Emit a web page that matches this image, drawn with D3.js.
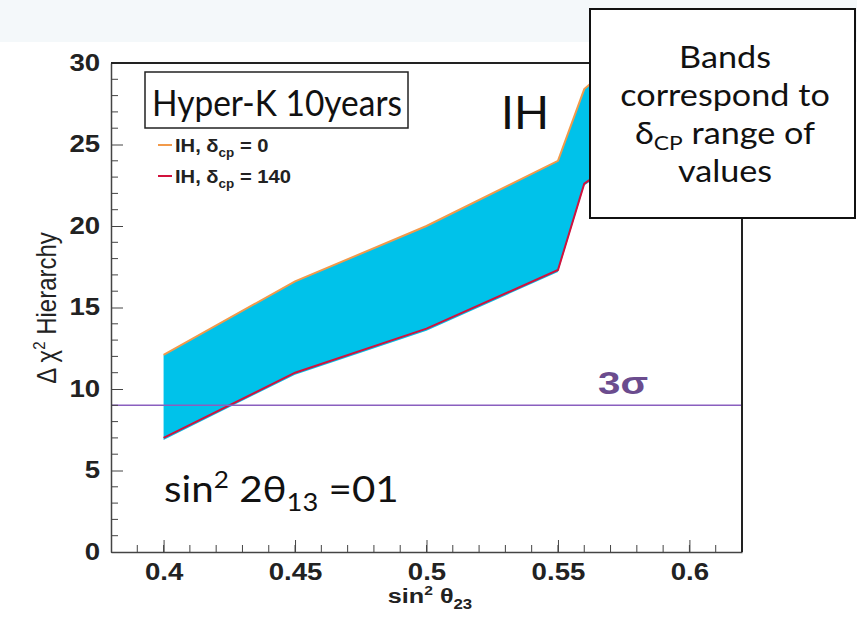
<!DOCTYPE html>
<html>
<head>
<meta charset="utf-8">
<script src="https://cdn.jsdelivr.net/npm/d3@7"></script>
<style>
  body { margin: 0; background: #fff; }
  svg { display: block; }
</style>
</head>
<body>
<div id="chart"></div>
<script>
// Values
const sinTheta23 = [0.40, 0.45, 0.50, 0.55, 0.56, 0.60];
const chi2Dcp0   = [12.1, 16.6, 20.0, 24.0, 28.4, 34.0];
const chi2Dcp140 = [7.0, 11.0, 13.7, 17.3, 22.6, 27.0];
const sigma3 = 9;
const xTicks = [0.4, 0.45, 0.5, 0.55, 0.6];
const yTicks = [0, 5, 10, 15, 20, 25, 30];
const boxLines = ["Bands", "correspond to", null, "values"];

const W = 857, H = 617;
const frame = { left: 111, right: 742, top: 63, bottom: 552 };
const ROOT_FONT = "Liberation Sans, Arial, sans-serif";
const SLIDE_FONT = "Lato, sans-serif";
const SX = 1.2; // the original plot was stretched sideways

const svg = d3.select("#chart").append("svg")
    .attr("width", W)
    .attr("height", H);

// text helper: stretched horizontally about its anchor point
function label(x, y, sx) {
    return svg.append("text")
        .attr("transform", `translate(${x},${y}) scale(${sx},1)`);
}

// light strip along the top
svg.append("rect")
    .attr("x", 0).attr("y", 0)
    .attr("width", W).attr("height", 42)
    .attr("fill", "#f4f8fa");

const x = d3.scaleLinear().domain([0.38, 0.62]).range([frame.left, frame.right]);
const y = d3.scaleLinear().domain([0, 30]).range([frame.bottom, frame.top]);

const pts = sinTheta23.map((s, i) => ({ s: s, hi: chi2Dcp0[i], lo: chi2Dcp140[i] }));

svg.append("clipPath").attr("id", "plot-clip")
    .append("rect")
    .attr("x", frame.left).attr("y", frame.top)
    .attr("width", frame.right - frame.left)
    .attr("height", frame.bottom - frame.top);

const plot = svg.append("g").attr("clip-path", "url(#plot-clip)");

// band of delta_cp values
plot.append("path")
    .datum(pts)
    .attr("fill", "#00c2ea")
    .attr("d", d3.area()
        .x(d => x(d.s))
        .y0(d => y(d.lo) + 2)
        .y1(d => y(d.hi)));

plot.append("path")
    .datum(pts)
    .attr("fill", "none")
    .attr("stroke", "#f29a4a")
    .attr("stroke-width", 2)
    .attr("d", d3.line().x(d => x(d.s)).y(d => y(d.hi)));

plot.append("path")
    .datum(pts)
    .attr("fill", "none")
    .attr("stroke", "#d2123c")
    .attr("stroke-width", 2)
    .attr("d", d3.line().x(d => x(d.s)).y(d => y(d.lo)));

// 3 sigma line
svg.append("line")
    .attr("x1", frame.left).attr("x2", frame.right)
    .attr("y1", y(sigma3)).attr("y2", y(sigma3))
    .attr("stroke", "#8a5fbf")
    .attr("stroke-width", 1.5);

label(598, y(sigma3) - 11, 1.3)
    .attr("font-family", ROOT_FONT)
    .attr("font-weight", "bold")
    .attr("font-size", 31)
    .attr("fill", "#6b4c8e")
    .text("3σ");

// axes (ticks point inwards, ROOT style)
const xAxis = d3.axisBottom(x)
    .tickValues(xTicks)
    .tickSizeInner(-12)
    .tickSizeOuter(0)
    .tickPadding(12)
    .tickFormat(d3.format("~g"));

const gx = svg.append("g")
    .attr("transform", `translate(0,${frame.bottom})`)
    .call(xAxis);

gx.selectAll(".minor")
    .data(d3.range(0.39, 0.615, 0.01).map(v => +v.toFixed(2)))
    .enter().append("line")
    .attr("class", "minor")
    .attr("x1", d => x(d)).attr("x2", d => x(d))
    .attr("y1", 0).attr("y2", -7)
    .attr("stroke", "#444");

const yAxis = d3.axisLeft(y)
    .tickValues(yTicks)
    .tickSizeInner(-12)
    .tickSizeOuter(0)
    .tickPadding(9);

const gy = svg.append("g")
    .attr("transform", `translate(${frame.left},0)`)
    .call(yAxis);

gy.selectAll(".minor")
    .data(d3.range(1, 30).filter(v => v % 5 !== 0))
    .enter().append("line")
    .attr("class", "minor")
    .attr("x1", 0).attr("x2", 7)
    .attr("y1", d => y(d)).attr("y2", d => y(d))
    .attr("stroke", "#444");

[gx, gy].forEach(g => {
    g.select(".domain").attr("stroke", "#444").attr("stroke-width", 1.5);
    g.selectAll(".tick line").attr("stroke", "#444");
    g.selectAll(".tick text")
        .attr("font-family", ROOT_FONT)
        .attr("font-weight", "bold")
        .attr("font-size", 23)
        .attr("fill", "#222")
        .attr("transform", `scale(${SX},1)`);
});

// top and right frame edges
svg.append("path")
    .attr("d", `M${frame.left},${frame.top}H${frame.right}V${frame.bottom}`)
    .attr("fill", "none")
    .attr("stroke", "#222")
    .attr("stroke-width", 2);

// axis titles
const xt = label(430, 603, SX)
    .attr("text-anchor", "middle")
    .attr("font-family", ROOT_FONT)
    .attr("font-weight", "bold")
    .attr("font-size", 21)
    .attr("fill", "#222");
xt.append("tspan").text("sin");
xt.append("tspan").attr("font-size", 13).attr("dy", -8).text("2");
xt.append("tspan").attr("dy", 8).text(" θ");
xt.append("tspan").attr("font-size", 14).attr("dy", 6).text("23");

const yt = svg.append("text")
    .attr("transform", "translate(56,308) rotate(-90) scale(1,1.15)")
    .attr("text-anchor", "middle")
    .attr("font-family", ROOT_FONT)
    .attr("font-size", 24)
    .attr("fill", "#222");
yt.append("tspan").text("Δ χ");
yt.append("tspan").attr("font-size", 15).attr("dy", -10).text("2");
yt.append("tspan").attr("dy", 10).text(" Hierarchy");

// legend
svg.append("rect")
    .attr("x", 145).attr("y", 72)
    .attr("width", 263).attr("height", 56)
    .attr("fill", "#fff")
    .attr("stroke", "#222")
    .attr("stroke-width", 1.5);

label(277, 116, 0.93)
    .attr("text-anchor", "middle")
    .attr("font-family", SLIDE_FONT)
    .attr("font-size", 36)
    .attr("fill", "#111")
    .text("Hyper-K 10years");

const legendItems = [
    { label: "0", color: "#f29a4a" },
    { label: "140", color: "#d2123c" }
];
legendItems.forEach((d, i) => {
    const ly = 145 + i * 31;
    svg.append("line")
        .attr("x1", 158).attr("x2", 172)
        .attr("y1", ly).attr("y2", ly)
        .attr("stroke", d.color)
        .attr("stroke-width", 2);
    const t = label(175, ly + 7, 1.12)
        .attr("font-family", ROOT_FONT)
        .attr("font-weight", "bold")
        .attr("font-size", 18)
        .attr("fill", "#222");
    t.append("tspan").text("IH, δ");
    t.append("tspan").attr("font-size", 12).attr("dy", 5).text("cp");
    t.append("tspan").attr("dy", -5).text(" = " + d.label);
});

// annotations
label(501, 129, 1)
    .attr("font-family", SLIDE_FONT)
    .attr("font-size", 46)
    .attr("fill", "#111")
    .text("IH");

const st = label(164, 502, 1.09)
    .attr("font-family", SLIDE_FONT)
    .attr("font-size", 37)
    .attr("fill", "#111");
st.append("tspan").text("sin");
st.append("tspan").attr("font-size", 24).attr("dy", -14).text("2");
st.append("tspan").attr("dy", 14).text(" 2θ");
st.append("tspan").attr("font-size", 25).attr("dy", 9).text("13");
st.append("tspan").attr("dy", -9).text(" =01");

// note box
svg.append("rect")
    .attr("x", 590).attr("y", 9)
    .attr("width", 265).attr("height", 209)
    .attr("fill", "#fff")
    .attr("stroke", "#111")
    .attr("stroke-width", 2);

boxLines.forEach((line, i) => {
    const t = label(725, 68 + i * 38, 1.14)
        .attr("text-anchor", "middle")
        .attr("font-family", SLIDE_FONT)
        .attr("font-size", 30)
        .attr("fill", "#111");
    if (line === null) {
        t.append("tspan").text("δ");
        t.append("tspan").attr("font-size", 20).attr("dy", 6).text("CP");
        t.append("tspan").attr("dy", -6).text(" range of");
    } else {
        t.text(line);
    }
});
</script>
</body>
</html>
